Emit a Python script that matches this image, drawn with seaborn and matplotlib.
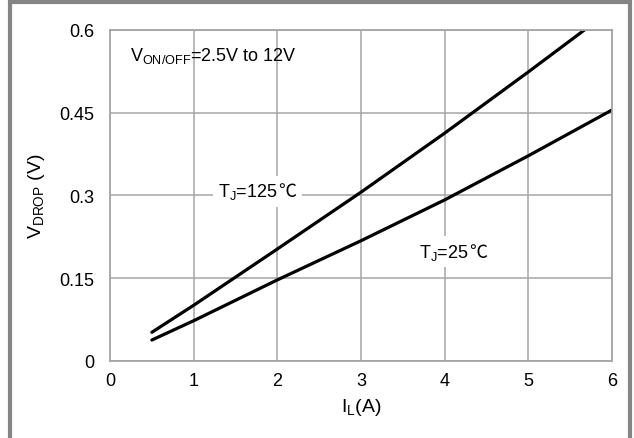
import numpy as np
import pandas as pd
import seaborn as sns
import matplotlib.pyplot as plt
from matplotlib.patches import Rectangle
from matplotlib.offsetbox import TextArea, HPacker, AnnotationBbox

# Load current (A) vs. drop voltage (V)
il_125 = [0.5, 1, 2, 3, 4, 5, 5.67]
vdrop_125 = [0.052, 0.101, 0.203, 0.306, 0.413, 0.524, 0.6]
il_25 = [0.5, 1, 2, 3, 4, 5, 6]
vdrop_25 = [0.038, 0.073, 0.147, 0.218, 0.292, 0.372, 0.455]
x_ticks = [0, 1, 2, 3, 4, 5, 6]
y_ticks = [0, 0.15, 0.3, 0.45, 0.6]
y_tick_labels = ['0', '0.15', '0.3', '0.45', '0.6']

df = pd.concat([
    pd.DataFrame({'IL': il_125, 'VDROP': vdrop_125, 'Tj': '125'}),
    pd.DataFrame({'IL': il_25, 'VDROP': vdrop_25, 'Tj': '25'}),
])

sns.set_style('whitegrid')
plt.rcParams['font.family'] = ['Liberation Sans', 'DejaVu Sans']
plt.rcParams['mathtext.default'] = 'regular'
plt.rcParams['text.color'] = 'black'
plt.rcParams['axes.labelcolor'] = 'black'

fig = plt.figure(figsize=(6.34, 4.39), dpi=100)
ax = fig.add_axes([110 / 634, 1 - 362 / 439, 502 / 634, 331 / 439])

sns.lineplot(data=df, x='IL', y='VDROP', hue='Tj', palette=['black', 'black'],
             linewidth=2.3, legend=False, ax=ax, sort=False)

ax.set_xlim(0, 6)
ax.set_ylim(0, 0.6)
ax.set_xticks(x_ticks)
ax.set_yticks(y_ticks)
ax.set_yticklabels(y_tick_labels)
ax.grid(True, color='#a6a6a6', linewidth=1.1)
for s in ax.spines.values():
    s.set_color('#a6a6a6')
    s.set_linewidth(1.3)
ax.tick_params(axis='both', length=0, labelsize=13, colors='black')
ax.tick_params(axis='y', pad=11)
ax.tick_params(axis='x', pad=8)

ax.set_xlabel('$I_L$(A)', fontsize=14, labelpad=5)
ax.set_ylabel('$V_{DROP}$ (V)', fontsize=14, labelpad=9)

ax.text(0.24, 0.555, '$V_{ON/OFF}$=2.5V to 12V', fontsize=13, va='center', ha='left')


def temp_label(x, y, value):
    # mathtext cannot fall back for ℃, so draw it as its own piece
    part1 = TextArea('$T_J$=' + value, textprops=dict(fontsize=13, color='black'))
    part2 = TextArea('℃', textprops=dict(fontsize=13, color='black',
                                         family='Noto Sans CJK SC'))
    box = HPacker(children=[part1, part2], pad=0, sep=0, align='baseline')
    ab = AnnotationBbox(box, (x, y), xycoords='data', frameon=True, pad=0.4,
                        bboxprops=dict(facecolor='white', edgecolor='none'))
    ax.add_artist(ab)


temp_label(1.76, 0.308, '125')
temp_label(4.1, 0.198, '25')

# gray frame around the figure
fig.patches.append(Rectangle((10 / 634, -0.05), 620 / 634, 1.05 - 3 / 439,
                             transform=fig.transFigure, fill=False,
                             edgecolor='#858585', linewidth=3))

fig.savefig('out.png', dpi=100)
